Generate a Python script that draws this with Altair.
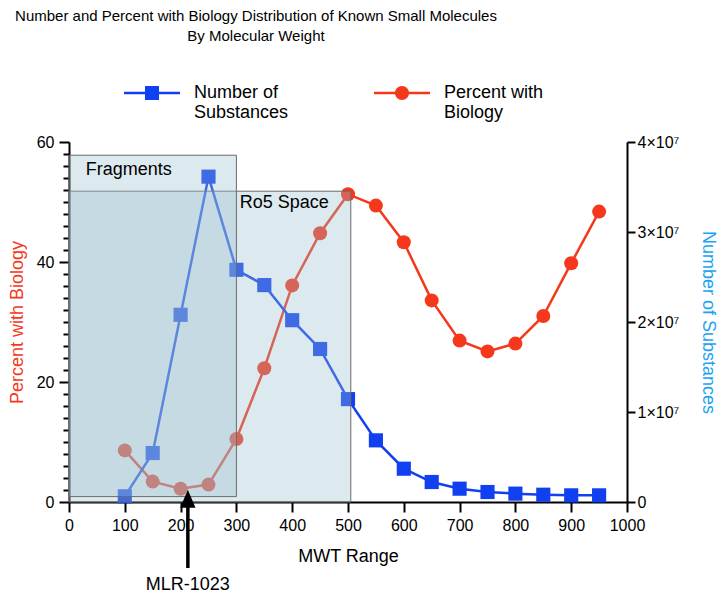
import altair as alt
import pandas as pd

# ---- data ----
MWT = [100, 150, 200, 250, 300, 350, 400, 450, 500, 550, 600, 650, 700, 750, 800, 850, 900, 950]
PERCENT = [8.6, 3.4, 2.2, 2.9, 10.5, 22.3, 36.1, 44.8, 51.3, 49.4, 43.3, 33.6, 26.9, 25.1, 26.4, 31.0, 39.8, 48.4]
NUMBER = [0.63e6, 5.44e6, 20.8e6, 36.15e6, 25.8e6, 24.1e6, 20.2e6, 17.0e6, 11.43e6, 6.85e6,
          3.7e6, 2.22e6, 1.48e6, 1.11e6, 0.93e6, 0.81e6, 0.74e6, 0.74e6]
SERIES = ["Number of Substances", "Percent with Biology"]

REGION_NAMES = ["Ro5 Space", "Fragments"]
REGION_X0 = [0, 0]
REGION_X1 = [505, 300]
REGION_Y0 = [0, 0.9]
REGION_Y1 = [51.8, 57.8]
REGION_LABEL_X = [306, 30]
REGION_LABEL_Y = [49.9, 55.4]

MLR_X = [213]
MLR_LABEL = ["MLR-1023"]

BLUE = "#1040f0"
RED = "#f5381c"
FONT = "Liberation Sans"

df = pd.DataFrame({"mwt": MWT, "percent": PERCENT, "number": NUMBER})
regions = pd.DataFrame({"name": REGION_NAMES, "x0": REGION_X0, "x1": REGION_X1,
                        "y0": REGION_Y0, "y1": REGION_Y1,
                        "lx": REGION_LABEL_X, "ly": REGION_LABEL_Y})
mlr = pd.DataFrame({"x": MLR_X, "label": MLR_LABEL, "tip": [0.55], "y_top": [1.0],
                    "y_bot": [-11.0], "y_lab": [-12.4]})
legend_df = pd.DataFrame({"mwt": MWT * 2,
                          "series": [SERIES[0]] * len(MWT) + [SERIES[1]] * len(MWT),
                          "percent": PERCENT * 2})

XS = alt.Scale(domain=[0, 1000], nice=False)
YL = alt.Scale(domain=[0, 60], nice=False)
YR = alt.Scale(domain=[0, 4e7], nice=False)

x_axis = alt.Axis(values=list(range(0, 1001, 100)), format="d", title="MWT Range", grid=False,
                  domainColor="black", domainWidth=2, tickColor="black", tickWidth=2,
                  tickSize=10, labelFont=FONT, labelFontSize=16, labelColor="black",
                  labelPadding=5, titleFont=FONT, titleFontSize=18, titleFontWeight="normal",
                  titleColor="black", titlePadding=14, labelFlush=False)

y_left_axis = alt.Axis(values=[0, 20, 40, 60], title="Percent with Biology", grid=False,
                       domainColor="black", domainWidth=2, tickColor="black", tickWidth=2,
                       tickSize=10, labelFont=FONT, labelFontSize=16, labelColor="black",
                       labelPadding=5, titleFont=FONT, titleFontSize=18, titleFontWeight="normal",
                       titleColor=RED, titlePadding=10, labelFlush=False)

y_minor_axis = alt.Axis(values=[v for v in range(0, 61, 2) if v % 20 != 0], title=None, grid=False,
                        labels=False, domain=False, tickColor="black", tickWidth=2, tickSize=6)

y_right_axis = alt.Axis(orient="right", values=[0, 1e7, 2e7, 3e7, 4e7], title="Number of Substances",
                        grid=False,
                        labelExpr="datum.value == 0 ? '0' : format(datum.value / 1e7, 'd') + '×10⁷'",
                        domainColor="black", domainWidth=2, tickColor="black", tickWidth=2,
                        tickSize=8, labelFont=FONT, labelFontSize=16, labelColor="black",
                        labelPadding=2, titleFont=FONT, titleFontSize=18, titleFontWeight="normal",
                        titleColor="#1aa3f5", titlePadding=20, titleAngle=90, labelFlush=False)

base = alt.Chart(df)

red_line = base.mark_line(color=RED, strokeWidth=2.5).encode(
    x=alt.X("mwt:Q", scale=XS, axis=x_axis),
    y=alt.Y("percent:Q", scale=YL, axis=y_left_axis))
red_pts = base.mark_point(color=RED, filled=True, shape="circle", size=196, opacity=1).encode(
    x=alt.X("mwt:Q", scale=XS, axis=x_axis),
    y=alt.Y("percent:Q", scale=YL, axis=y_left_axis))
red_group = alt.layer(red_line, red_pts)

blue_line = base.mark_line(color=BLUE, strokeWidth=2.5).encode(
    x=alt.X("mwt:Q", scale=XS, axis=x_axis),
    y=alt.Y("number:Q", scale=YR, axis=y_right_axis))
blue_pts = base.mark_point(color=BLUE, filled=True, shape="square", size=200, opacity=1).encode(
    x=alt.X("mwt:Q", scale=XS, axis=x_axis),
    y=alt.Y("number:Q", scale=YR, axis=y_right_axis))
blue_group = alt.layer(blue_line, blue_pts)

rects = alt.Chart(regions).mark_rect(fill="#98becd", fillOpacity=0.34, stroke="#6a6a6a",
                                     strokeWidth=1).encode(
    x=alt.X("x0:Q", scale=XS, axis=x_axis), x2="x1:Q",
    y=alt.Y("y0:Q", scale=YL, axis=y_minor_axis), y2="y1:Q")
region_text = alt.Chart(regions).mark_text(font=FONT, fontSize=18, align="left",
                                           baseline="middle", color="black").encode(
    x=alt.X("lx:Q", scale=XS, axis=x_axis),
    y=alt.Y("ly:Q", scale=YL, axis=y_minor_axis),
    text="name:N")

arrow_shaft = alt.Chart(mlr).mark_rule(color="black", strokeWidth=3.5).encode(
    x=alt.X("x:Q", scale=XS, axis=x_axis),
    y=alt.Y("y_bot:Q", scale=YL, axis=y_minor_axis), y2="y_top:Q")
arrow_head = alt.Chart(mlr).mark_point(filled=True, color="black", opacity=1,
                                       shape="M0,-1L0.85,1L-0.85,1Z", size=324).encode(
    x=alt.X("x:Q", scale=XS, axis=x_axis),
    y=alt.Y("tip:Q", scale=YL, axis=y_minor_axis))
arrow_text = alt.Chart(mlr).mark_text(font=FONT, fontSize=18, align="center",
                                      baseline="top", color="black").encode(
    x=alt.X("x:Q", scale=XS, axis=x_axis),
    y=alt.Y("y_lab:Q", scale=YL, axis=y_minor_axis),
    text="label:N")

SQ_PATH = "M-2,-0.09H2V0.09H-2Z M-0.5,-0.5H0.5V0.5H-0.5Z"
CI_PATH = "M-2,-0.09H2V0.09H-2Z M0.5,0A0.5,0.5,0,1,1,-0.5,0A0.5,0.5,0,1,1,0.5,0Z"

leg = alt.Legend(title=None, orient="none", legendX=69, legendY=-63, direction="horizontal",
                 labelFont=FONT, labelFontSize=18, labelColor="black", labelLimit=300,
                 symbolSize=784, symbolStrokeWidth=0, symbolOpacity=1, labelOffset=28,
                 columnPadding=85, labelBaseline="middle",
                 labelExpr="datum.label == 'Number of Substances' ? ['Number of', 'Substances'] : ['Percent with', 'Biology']")

legend_layer = alt.Chart(legend_df).mark_point(filled=True, opacity=0, size=10).encode(
    x=alt.X("mwt:Q", scale=XS, axis=x_axis),
    y=alt.Y("percent:Q", scale=YL, axis=y_minor_axis),
    color=alt.Color("series:N", scale=alt.Scale(domain=SERIES, range=[BLUE, RED]), legend=leg),
    shape=alt.Shape("series:N", scale=alt.Scale(domain=SERIES, range=[SQ_PATH, CI_PATH]), legend=leg))

overlay_group = alt.layer(rects, region_text, arrow_shaft, arrow_head, arrow_text, legend_layer)

chart = alt.layer(red_group, blue_group, overlay_group).resolve_scale(y="independent").properties(
    width=558, height=360,
    autosize=alt.AutoSizeParams(type="none"),
    padding={"left": 61, "top": 134, "right": 91, "bottom": 92},
    title=alt.TitleParams(
        text=["Number and Percent with Biology Distribution of Known Small Molecules",
              "By Molecular Weight"],
        font=FONT, fontSize=15, fontWeight="normal", color="black",
        lineHeight=20.5, anchor="middle", dx=-92, offset=35)
).configure_view(stroke=None)

chart.save("out.html", embed_options={"renderer": "svg", "actions": False})
